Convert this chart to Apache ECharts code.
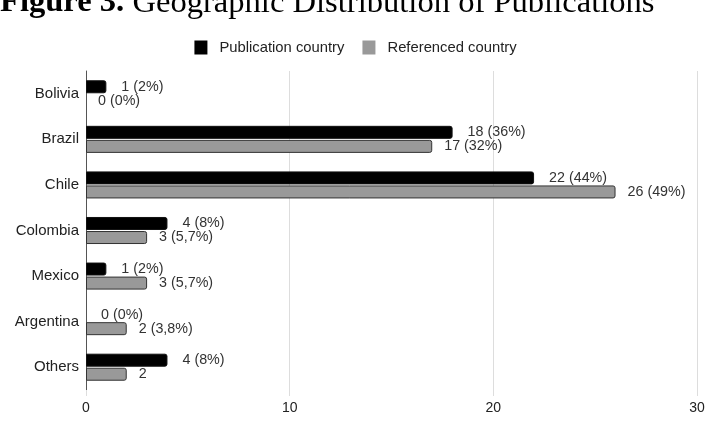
<!DOCTYPE html>
<html>
<head>
<meta charset="utf-8">
<script src="https://cdn.jsdelivr.net/npm/echarts@6/dist/echarts.min.js"></script>
<style>
  html, body { margin: 0; padding: 0; background: #fff; }
  #chart { width: 711px; height: 435px; }
</style>
</head>
<body>
<div id="chart"></div>
<script>
// Countries, top to bottom
const categories = ['Bolivia', 'Brazil', 'Chile', 'Colombia', 'Mexico', 'Argentina', 'Others'];
// Number of publications by country of publication
const publicationCountry = [1, 18, 22, 4, 1, 0, 4];
// Number of publications by referenced country
const referencedCountry = [0, 17, 26, 3, 3, 2, 2];
// Value labels shown beside the bars
const publicationLabels = ['1 (2%)', '18 (36%)', '22 (44%)', '4 (8%)', '1 (2%)', '0 (0%)', '4 (8%)'];
const referencedLabels = ['0 (0%)', '17 (32%)', '26 (49%)', '3 (5,7%)', '3 (5,7%)', '2 (3,8%)', '2'];
// Value axis ticks
const xTicks = [0, 10, 20, 30];

const chart = echarts.init(document.getElementById('chart'), null, { renderer: 'canvas' });

const sans = 'Liberation Sans, Arial, sans-serif';
const serif = 'Liberation Serif, Times New Roman, serif';

// zero-length bars get no outline so nothing is drawn for them
function toItems(values, border) {
  return values.map(v => ({ value: v, itemStyle: { borderWidth: v === 0 ? 0 : border } }));
}

chart.setOption({
  animation: false,
  backgroundColor: '#ffffff',
  graphic: [{
    type: 'text',
    x: 0,
    y: 3,
    style: {
      text: '{b|Figure 3.} Geographic Distribution of Publications',
      x: 0,
      y: 0,
      align: 'left',
      verticalAlign: 'middle',
      fill: '#000',
      font: '32.6px ' + serif,
      rich: {
        b: { fontFamily: serif, fontWeight: 'bold', fontSize: 32.6, fill: '#000' }
      }
    }
  }],
  legend: {
    top: 35,
    left: 'center',
    itemWidth: 13,
    itemHeight: 14,
    itemGap: 18,
    icon: 'rect',
    itemStyle: { borderWidth: 0 },
    textStyle: { fontFamily: sans, fontSize: 14.8, color: '#222', padding: [0, 0, 0, 7] },
    data: ['Publication country', 'Referenced country']
  },
  grid: { left: 86, right: 14, top: 71, bottom: 45, containLabel: false },
  xAxis: {
    type: 'value',
    min: xTicks[0],
    max: xTicks[xTicks.length - 1],
    interval: 10,
    axisLine: { show: false },
    axisTick: { show: true, length: 6, lineStyle: { color: '#ddd' } },
    axisLabel: { fontFamily: sans, fontSize: 14, color: '#222', margin: 11 },
    splitLine: { show: true, lineStyle: { color: '#ddd', width: 1 } }
  },
  yAxis: {
    type: 'category',
    inverse: true,
    data: categories,
    axisLine: { show: true, lineStyle: { color: '#555', width: 1 } },
    axisTick: { show: false },
    axisLabel: { fontFamily: sans, fontSize: 15, color: '#222', margin: 7 }
  },
  series: [
    {
      name: 'Publication country',
      type: 'bar',
      data: toItems(publicationCountry, 1),
      barWidth: 13,
      barGap: '8%',
      itemStyle: { color: '#000000', borderColor: '#111', borderWidth: 1, borderRadius: [0, 2, 2, 0] },
      label: {
        show: true,
        position: 'right',
        distance: 15,
        fontFamily: sans,
        fontSize: 14.3,
        color: '#333',
        formatter: p => publicationLabels[p.dataIndex]
      }
    },
    {
      name: 'Referenced country',
      type: 'bar',
      data: toItems(referencedCountry, 1),
      barWidth: 13,
      itemStyle: { color: '#999999', borderColor: '#333', borderWidth: 1, borderRadius: [0, 2, 2, 0] },
      label: {
        show: true,
        position: 'right',
        distance: 12,
        fontFamily: sans,
        fontSize: 14.3,
        color: '#333',
        formatter: p => referencedLabels[p.dataIndex]
      }
    }
  ]
});
</script>
</body>
</html>
